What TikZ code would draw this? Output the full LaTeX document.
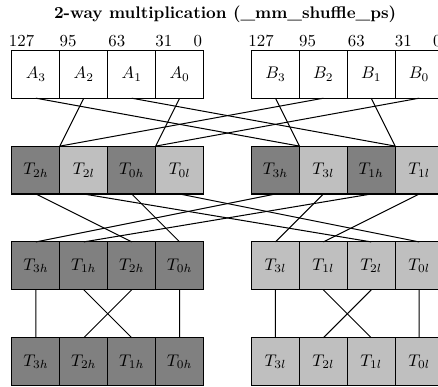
\documentclass[tikz,border=0pt]{standalone}
\begin{document}
\begin{tikzpicture}[scale=1,semithick,
  cell/.style={draw,minimum size=1cm,inner sep=0pt,outer sep=0pt},
  hi/.style={cell,fill=black!50},
  lo/.style={cell,fill=black!25},
  bit/.style={anchor=south,inner sep=1pt,yshift=1pt}]

%Picture frame
\path[use as bounding box,clip] (-0.25,-7.02) rectangle (8.894,1.05);

%Title
\node (title) at (4.45,0.76) {\textbf{2-way multiplication (\_mm\_shuffle\_ps)}};

%Bit positions
\node[bit] (pa127) at (0.20,0) {127};
\node[bit] (pa95) at (1.17,0) {95};
\node[bit] (pa63) at (2.19,0) {63};
\node[bit] (pa31) at (3.17,0) {31};
\node[bit] (pa0) at (3.88,0) {0};
\node[bit] (pb127) at (5.20,0) {127};
\node[bit] (pb95) at (6.17,0) {95};
\node[bit] (pb63) at (7.19,0) {63};
\node[bit] (pb31) at (8.17,0) {31};
\node[bit] (pb0) at (8.88,0) {0};

%Inputs A and B
\node[cell] (a3) at (0.5,-0.5) {$A_3$};
\node[cell] (a2) at (1.5,-0.5) {$A_2$};
\node[cell] (a1) at (2.5,-0.5) {$A_1$};
\node[cell] (a0) at (3.5,-0.5) {$A_0$};
\node[cell] (b3) at (5.5,-0.5) {$B_3$};
\node[cell] (b2) at (6.5,-0.5) {$B_2$};
\node[cell] (b1) at (7.5,-0.5) {$B_1$};
\node[cell] (b0) at (8.5,-0.5) {$B_0$};

%Products
\node[hi] (t2h) at (0.5,-2.5) {$T_{2h}$};
\node[lo] (t2l) at (1.5,-2.5) {$T_{2l}$};
\node[hi] (t0h) at (2.5,-2.5) {$T_{0h}$};
\node[lo] (t0l) at (3.5,-2.5) {$T_{0l}$};
\node[hi] (t3h) at (5.5,-2.5) {$T_{3h}$};
\node[lo] (t3l) at (6.5,-2.5) {$T_{3l}$};
\node[hi] (t1h) at (7.5,-2.5) {$T_{1h}$};
\node[lo] (t1l) at (8.5,-2.5) {$T_{1l}$};

%First shuffle
\node[hi] (u3h) at (0.5,-4.5) {$T_{3h}$};
\node[hi] (u1h) at (1.5,-4.5) {$T_{1h}$};
\node[hi] (u2h) at (2.5,-4.5) {$T_{2h}$};
\node[hi] (u0h) at (3.5,-4.5) {$T_{0h}$};
\node[lo] (u3l) at (5.5,-4.5) {$T_{3l}$};
\node[lo] (u1l) at (6.5,-4.5) {$T_{1l}$};
\node[lo] (u2l) at (7.5,-4.5) {$T_{2l}$};
\node[lo] (u0l) at (8.5,-4.5) {$T_{0l}$};

%Second shuffle
\node[hi] (v3h) at (0.5,-6.5) {$T_{3h}$};
\node[hi] (v2h) at (1.5,-6.5) {$T_{2h}$};
\node[hi] (v1h) at (2.5,-6.5) {$T_{1h}$};
\node[hi] (v0h) at (3.5,-6.5) {$T_{0h}$};
\node[lo] (v3l) at (5.5,-6.5) {$T_{3l}$};
\node[lo] (v2l) at (6.5,-6.5) {$T_{2l}$};
\node[lo] (v1l) at (7.5,-6.5) {$T_{1l}$};
\node[lo] (v0l) at (8.5,-6.5) {$T_{0l}$};

%Multiplying
\draw (a2.south) -- (t2h.north east) (b2.south) -- (t2h.north east);
\draw (a0.south) -- (t0h.north east) (b0.south) -- (t0h.north east);
\draw (a3.south) -- (t3h.north east) (b3.south) -- (t3h.north east);
\draw (a1.south) -- (t1h.north east) (b1.south) -- (t1h.north east);

%Shuffling
\draw (t2h.south) -- (u2h.north) (t0h.south) -- (u0h.north);
\draw (t2l.south) -- (u2l.north) (t0l.south) -- (u0l.north);
\draw (t3h.south) -- (u3h.north) (t1h.south) -- (u1h.north);
\draw (t3l.south) -- (u3l.north) (t1l.south) -- (u1l.north);

\draw (u3h.south) -- (v3h.north) (u1h.south) -- (v1h.north);
\draw (u2h.south) -- (v2h.north) (u0h.south) -- (v0h.north);
\draw (u3l.south) -- (v3l.north) (u1l.south) -- (v1l.north);
\draw (u2l.south) -- (v2l.north) (u0l.south) -- (v0l.north);
\end{tikzpicture}
\end{document}
